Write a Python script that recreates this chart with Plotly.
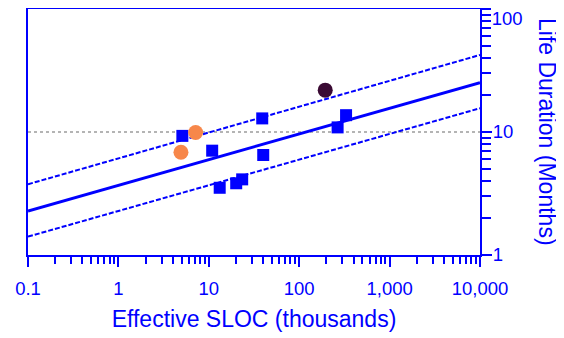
import plotly.graph_objects as go

# ---- data ----
blue_x = [5.1, 10.9, 13.2, 20.1, 23.4, 39.0, 40.0, 266, 330]
blue_y = [9.3, 7.05, 3.52, 3.83, 4.12, 12.9, 6.5, 10.9, 13.7]
orange_x = [7.15, 4.92]
orange_y = [9.9, 6.85]
dark_x = [194]
dark_y = [21.9]

line_x = [0.1, 10000]
fit_y = [2.28, 25.2]
upper_y = [3.76, 42.3]
lower_y = [1.41, 15.6]

x_tickvals = [0.1, 1, 10, 100, 1000, 10000]
x_ticktext = ["0.1", "1", "10", "100", "1,000", "10,000"]
y_tickvals = [1, 10]
y_ticktext = ["1", "10"]
y_top_tickvals = [100]
y_top_ticktext = ["100"]

x_minor = [m * 10 ** e for e in range(-1, 4) for m in range(2, 10)]
y_minor = [m * 10 ** e for e in range(0, 2) for m in range(2, 10)]

BLUE = "#0000FF"
FONT = "Liberation Sans, Arial, sans-serif"

fig = go.Figure()
fig.add_trace(go.Scatter(x=line_x, y=upper_y, mode="lines",
                         line=dict(color=BLUE, width=2, dash="5px,2px"), hoverinfo="skip"))
fig.add_trace(go.Scatter(x=line_x, y=lower_y, mode="lines",
                         line=dict(color=BLUE, width=2, dash="5px,2px"), hoverinfo="skip"))
fig.add_trace(go.Scatter(x=line_x, y=fit_y, mode="lines",
                         line=dict(color=BLUE, width=3), hoverinfo="skip"))
fig.add_trace(go.Scatter(x=blue_x, y=blue_y, mode="markers",
                         marker=dict(symbol="square", size=12, color=BLUE)))
fig.add_trace(go.Scatter(x=orange_x, y=orange_y, mode="markers",
                         marker=dict(symbol="circle", size=15, color="#F7874A")))
fig.add_trace(go.Scatter(x=dark_x, y=dark_y, mode="markers",
                         marker=dict(symbol="circle", size=15, color="#3A0A33")))
# empty trace so the overlay axis carrying the top "100" label is drawn
fig.add_trace(go.Scatter(x=[], y=[], yaxis="y2", mode="markers", hoverinfo="skip"))

tickfont = dict(size=18.5, color=BLUE, family=FONT)

# page body has an 8px default margin, so the figure is sized to fit inside it
fig.update_layout(
    width=556, height=330,
    margin=dict(l=20, r=84, t=1, b=83, autoexpand=False),
    paper_bgcolor="white", plot_bgcolor="white",
    showlegend=False,
    font=dict(family=FONT, color=BLUE, size=18),
    xaxis=dict(
        type="log", range=[-1, 4], automargin=False,
        tickvals=x_tickvals, ticktext=x_ticktext,
        ticks="outside", ticklen=10, tickwidth=2, tickcolor=BLUE,
        tickfont=tickfont,
        ticklabelstandoff=6, ticklabeloverflow="allow",
        showline=True, linecolor=BLUE, linewidth=2, mirror=True,
        showgrid=False, zeroline=False,
        minor=dict(tickvals=x_minor, ticks="outside", ticklen=7,
                   tickwidth=2, tickcolor=BLUE, showgrid=False),
        title=dict(text="Effective SLOC (thousands)",
                   font=dict(size=23, color=BLUE, family=FONT), standoff=13),
    ),
    yaxis=dict(
        type="log", range=[0, 2], side="right", automargin=False,
        tickvals=y_tickvals, ticktext=y_ticktext,
        ticks="outside", ticklen=10, tickwidth=2, tickcolor=BLUE,
        tickfont=tickfont, ticklabelstandoff=-3,
        ticklabeloverflow="allow",
        showline=True, linecolor=BLUE, linewidth=2, mirror=True,
        showgrid=True, gridcolor="#B4B4B4", griddash="dot", gridwidth=1.5,
        zeroline=False,
        minor=dict(tickvals=y_minor, ticks="outside", ticklen=9,
                   tickwidth=2, tickcolor=BLUE, showgrid=False),
    ),
    yaxis2=dict(
        type="log", range=[0, 2], side="right", overlaying="y", anchor="x",
        automargin=False,
        tickvals=y_top_tickvals, ticktext=y_top_ticktext,
        ticks="outside", ticklen=10, tickwidth=2, tickcolor=BLUE,
        tickfont=tickfont, ticklabelstandoff=-3, ticklabelshift=10,
        ticklabeloverflow="allow",
        showline=False, showgrid=False, zeroline=False,
    ),
    annotations=[dict(
        text="Life Duration (Months)", textangle=90,
        xref="paper", yref="paper", x=1.0, y=0.5,
        xanchor="center", yanchor="middle",
        xshift=67, yshift=0,
        showarrow=False, font=dict(size=23, color=BLUE, family=FONT),
    )],
)

fig.write_html("out.html")
